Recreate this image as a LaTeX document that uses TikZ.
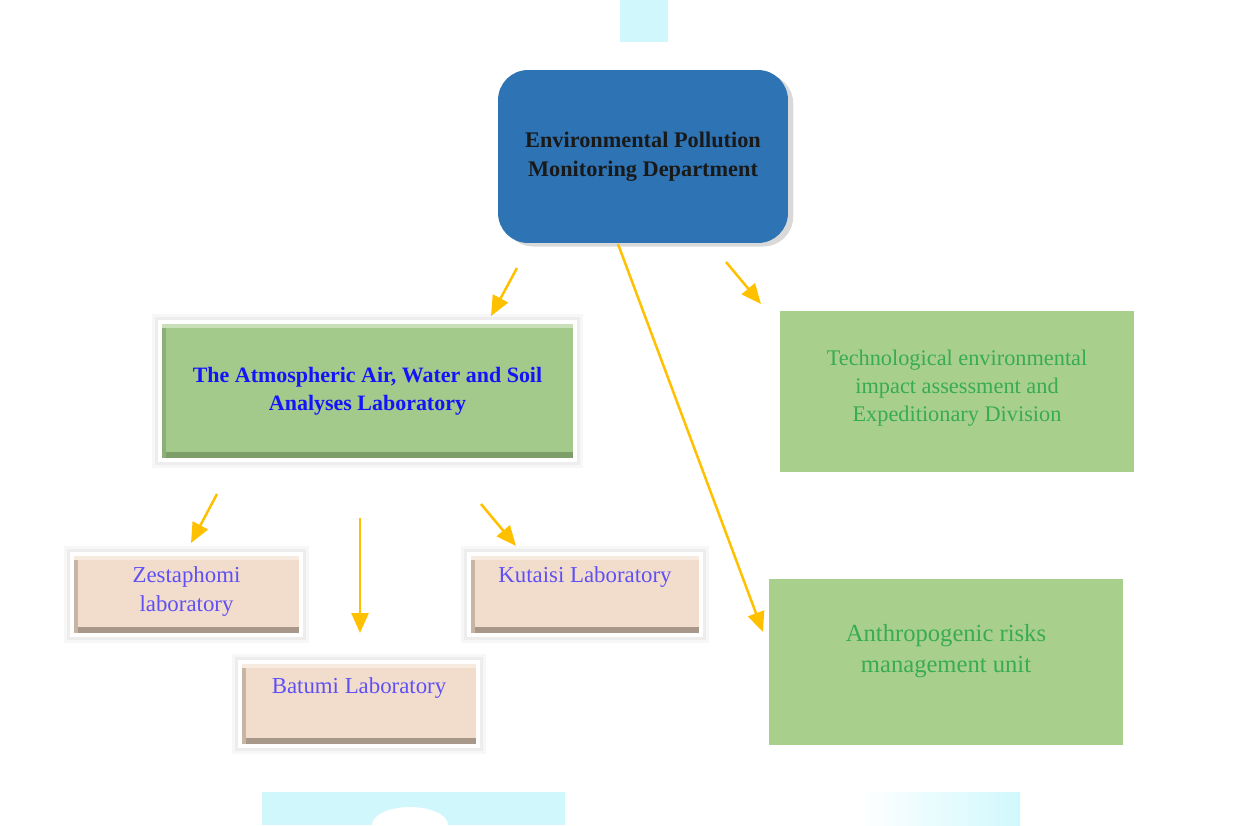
\documentclass[tikz,border=0pt]{standalone}
\usepackage{fontspec}
\setmainfont{Liberation Serif}
\usetikzlibrary{arrows.meta,shadows}

\definecolor{deptblue}{RGB}{46,116,181}
\definecolor{labgreen}{RGB}{163,201,139}
\definecolor{labgreendark}{RGB}{125,158,105}
\definecolor{unitgreen}{RGB}{169,207,141}
\definecolor{unittextgreen}{RGB}{56,172,82}
\definecolor{labbeige}{RGB}{242,221,204}
\definecolor{labbeigedark}{RGB}{168,152,138}
\definecolor{labtextblue}{RGB}{95,80,245}
\definecolor{awstextblue}{RGB}{20,20,250}
\definecolor{arrowyellow}{RGB}{255,192,0}
\definecolor{scrapcyan}{RGB}{208,248,252}

\begin{document}
\begin{tikzpicture}[x=0.02cm, y=-0.02cm,
    dept/.style={rectangle, rounded corners=0.6cm, fill=deptblue,
      minimum width=5.8cm, minimum height=3.46cm, align=center, text=black!90,
      font=\fontsize{12.7}{16.5}\selectfont\bfseries,
      drop shadow={shadow xshift=3pt, shadow yshift=-2pt, opacity=0.3}},
    bevel/.style 2 args={rectangle, fill=#1, draw=white, line width=0.08cm,
      drop shadow={shadow xshift=1.5pt, shadow yshift=-3pt, opacity=0.2},
      preaction={draw=black!3, line width=0.32cm},
      preaction={draw=black!7, line width=0.2cm},
      path picture={
        \fill[#2] (path picture bounding box.south west) rectangle ([yshift=0.16cm]path picture bounding box.south east);
        \fill[#2!60!#1] (path picture bounding box.south west) rectangle ([xshift=0.12cm]path picture bounding box.north west);
        \fill[white!40!#1] (path picture bounding box.north west) rectangle ([yshift=-0.12cm]path picture bounding box.north east);
      }},
    labtext/.style={inner sep=0pt, anchor=north, align=center, text=labtextblue,
      font=\fontsize{13}{16.5}\selectfont},
    unit/.style={rectangle, fill=unitgreen, minimum width=7.08cm},
    unittext/.style={inner sep=0pt, align=center, text=unittextgreen},
    flow/.style={draw=arrowyellow, line width=0.05cm, -{Triangle[length=0.4cm,width=0.34cm]}}
    ]
  \useasboundingbox (0,0) rectangle (1256,825);

  % cut-off pieces at the page edges
  \fill[scrapcyan] (620,0) rectangle (668,42);
  \fill[scrapcyan] (262,792) rectangle (565,825);
  \fill[white] (410,825) ellipse [x radius=38, y radius=18];
  \shade[left color=white, right color=scrapcyan] (860,792) rectangle (1020,825);

  % department and its units
  \node[dept] (epmd) at (643,156.5) {Environmental Pollution\\Monitoring Department};
  \node[bevel={labgreen}{labgreendark}, minimum width=8.3cm, minimum height=2.76cm,
    align=center, text=awstextblue, font=\fontsize{12.5}{15.9}\selectfont\bfseries]
    (aws) at (367.5,391) {The Atmospheric Air, Water and Soil\\Analyses Laboratory};
  \node[unit, minimum height=3.22cm] (tead) at (957,391.5) {};
  \node[unittext, font=\fontsize{12.7}{15.9}\selectfont] (teadtext) at ([yshift=0.07cm]tead.center)
    {Technological environmental\\impact assessment and\\Expeditionary Division};
  \node[unit, minimum height=3.32cm] (armu) at (946,662) {};
  \node[unittext, font=\fontsize{14}{18}\selectfont] (armutext) at ([yshift=0.22cm]armu.center)
    {Anthropogenic risks\\management unit};

  % regional laboratories
  \node[bevel={labbeige}{labbeigedark}, minimum width=4.58cm, minimum height=1.62cm] (zest) at (186.5,594.5) {};
  \node[labtext] (zesttext) at ([yshift=-0.28cm]zest.north) {Zestaphomi\\laboratory};
  \node[bevel={labbeige}{labbeigedark}, minimum width=4.64cm, minimum height=1.62cm] (kuta) at (585,594.5) {};
  \node[labtext] (kutatext) at ([yshift=-0.28cm]kuta.north) {Kutaisi Laboratory};
  \node[bevel={labbeige}{labbeigedark}, minimum width=4.76cm, minimum height=1.68cm] (batu) at (359,704) {};
  \node[labtext] (batutext) at ([yshift=-0.34cm]batu.north) {Batumi Laboratory};

  % arrow ends
  \coordinate (toaws-s) at (517,268);   \coordinate (toaws-e) at (491,316);
  \coordinate (totead-s) at (726,262);  \coordinate (totead-e) at (761,304);
  \coordinate (toarmu-s) at (618,244);  \coordinate (toarmu-e) at (763,632);
  \coordinate (tozest-s) at (217,494);  \coordinate (tozest-e) at (191,543);
  \coordinate (tobatu-s) at (360,518);  \coordinate (tobatu-e) at (360,633);
  \coordinate (tokuta-s) at (481,504);  \coordinate (tokuta-e) at (516,546);

  \draw[flow] (toaws-s) -- (toaws-e);
  \draw[flow] (totead-s) -- (totead-e);
  \draw[flow] (toarmu-s) -- (toarmu-e);
  \draw[flow] (tozest-s) -- (tozest-e);
  \draw[flow] (tobatu-s) -- (tobatu-e);
  \draw[flow] (tokuta-s) -- (tokuta-e);
\end{tikzpicture}
\end{document}
